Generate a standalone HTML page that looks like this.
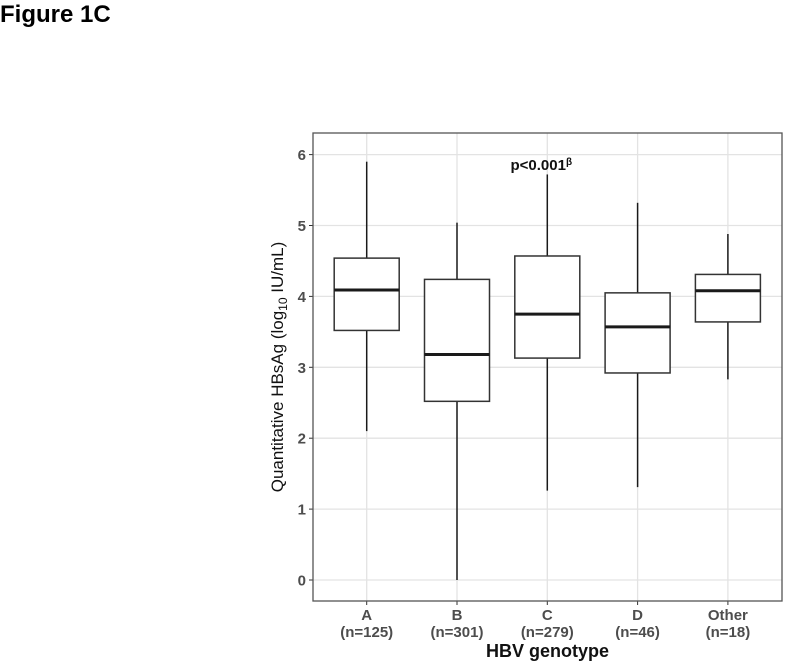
<!DOCTYPE html>
<html><head><meta charset="utf-8"><style>
body{margin:0;background:#fff;width:800px;height:662px;overflow:hidden;font-family:"Liberation Sans",Arial,sans-serif}
</style></head><body>
<svg id="chart" width="800" height="662" xmlns="http://www.w3.org/2000/svg" font-family="Liberation Sans, Arial, sans-serif">
<text x="0" y="22" font-size="24" font-weight="bold">Figure 1C</text>
<g id="grid"></g><g id="boxes"></g><g id="axes"></g>
</svg>
<script>
const categories = ["A","B","C","D","Other"];
const counts = ["(n=125)","(n=301)","(n=279)","(n=46)","(n=18)"];
const whiskerHigh = [5.9,5.04,5.72,5.32,4.88];
const q3Values = [4.54,4.24,4.57,4.05,4.31];
const medianValues = [4.09,3.18,3.75,3.57,4.08];
const q1Values = [3.52,2.52,3.13,2.92,3.64];
const whiskerLow = [2.1,0.0,1.26,1.31,2.83];
const yTicks = [0,1,2,3,4,5,6];
const annotation = "p<0.001";

const NS="http://www.w3.org/2000/svg";
const L=313,R=782,T=133,B=601;
const y0=580,yUnit=70.9;
const yScale=v=>y0-v*yUnit;
const xScale=i=>366.7+i*90.3;
const boxW=65;
function mk(tag,attrs,parent){const e=document.createElementNS(NS,tag);for(const k in attrs)e.setAttribute(k,attrs[k]);parent.appendChild(e);return e;}
const grid=document.getElementById('grid'),boxes=document.getElementById('boxes'),axes=document.getElementById('axes');
const bg=mk('rect',{x:L,y:T,width:R-L,height:B-T,fill:'#fff'},grid);


yTicks.forEach(v=>{const yy=yScale(v);
 const g=mk('line',{x1:L,x2:R,y1:yy,y2:yy,stroke:'#e3e3e3','stroke-width':1.3},grid);
 
 
 mk('line',{x1:L-4,x2:L,y1:yy,y2:yy,stroke:'#333','stroke-width':1},axes);
 const t=mk('text',{x:L-7,y:yy+5.5,'text-anchor':'end','font-size':15,'font-weight':'bold',fill:'#4d4d4d'},axes);
 t.textContent=v;
 
 
});
categories.forEach((c,i)=>{const x=xScale(i);
 const g=mk('line',{x1:x,x2:x,y1:T,y2:B,stroke:'#e3e3e3','stroke-width':1.3},grid);
 
 
 const bx=mk('g',{},boxes);
 
 
 mk('line',{x1:x,x2:x,y1:yScale(whiskerHigh[i]),y2:yScale(q3Values[i]),stroke:'#1a1a1a','stroke-width':1.5},bx);
 mk('line',{x1:x,x2:x,y1:yScale(q1Values[i]),y2:yScale(whiskerLow[i]),stroke:'#1a1a1a','stroke-width':1.5},bx);
 mk('rect',{x:x-boxW/2,y:yScale(q3Values[i]),width:boxW,height:yScale(q1Values[i])-yScale(q3Values[i]),fill:'#fff',stroke:'#333','stroke-width':1.5},bx);
 mk('line',{x1:x-boxW/2,x2:x+boxW/2,y1:yScale(medianValues[i]),y2:yScale(medianValues[i]),stroke:'#1a1a1a','stroke-width':3},bx);
 mk('line',{x1:x,x2:x,y1:B,y2:B+4,stroke:'#333','stroke-width':1},axes);
 const t1=mk('text',{x:x,y:620,'text-anchor':'middle','font-size':15,'font-weight':'bold',fill:'#4d4d4d'},axes);
 t1.textContent=c;
 
 
 const t2=mk('text',{x:x,y:637,'text-anchor':'middle','font-size':15,'font-weight':'bold',fill:'#4d4d4d'},axes);
 t2.textContent=counts[i];
 
 
});
const fr=mk('rect',{x:L,y:T,width:R-L,height:B-T,fill:'none',stroke:'#555','stroke-width':1.3},axes);


const an=mk('text',{x:xScale(2)-6,y:170,'text-anchor':'middle','font-size':15,'font-weight':'bold',fill:'#111'},axes);
an.textContent=annotation;


const sup=mk('tspan',{'font-size':10,dy:-5},an);sup.textContent='β';
const xt=mk('text',{x:(L+R)/2,y:657,'text-anchor':'middle','font-size':18,'font-weight':'bold',fill:'#111'},axes);
xt.textContent='HBV genotype';


const yt=mk('text',{x:0,y:0,'text-anchor':'middle','font-size':17,fill:'#111',transform:'translate(283,'+((T+B)/2)+') rotate(-90)'},axes);


yt.appendChild(document.createTextNode('Quantitative HBsAg (log'));
const sub=mk('tspan',{'font-size':12,dy:4},yt);sub.textContent='10';
const rest=mk('tspan',{dy:-4},yt);rest.textContent=' IU/mL)';
</script>
</body></html>
